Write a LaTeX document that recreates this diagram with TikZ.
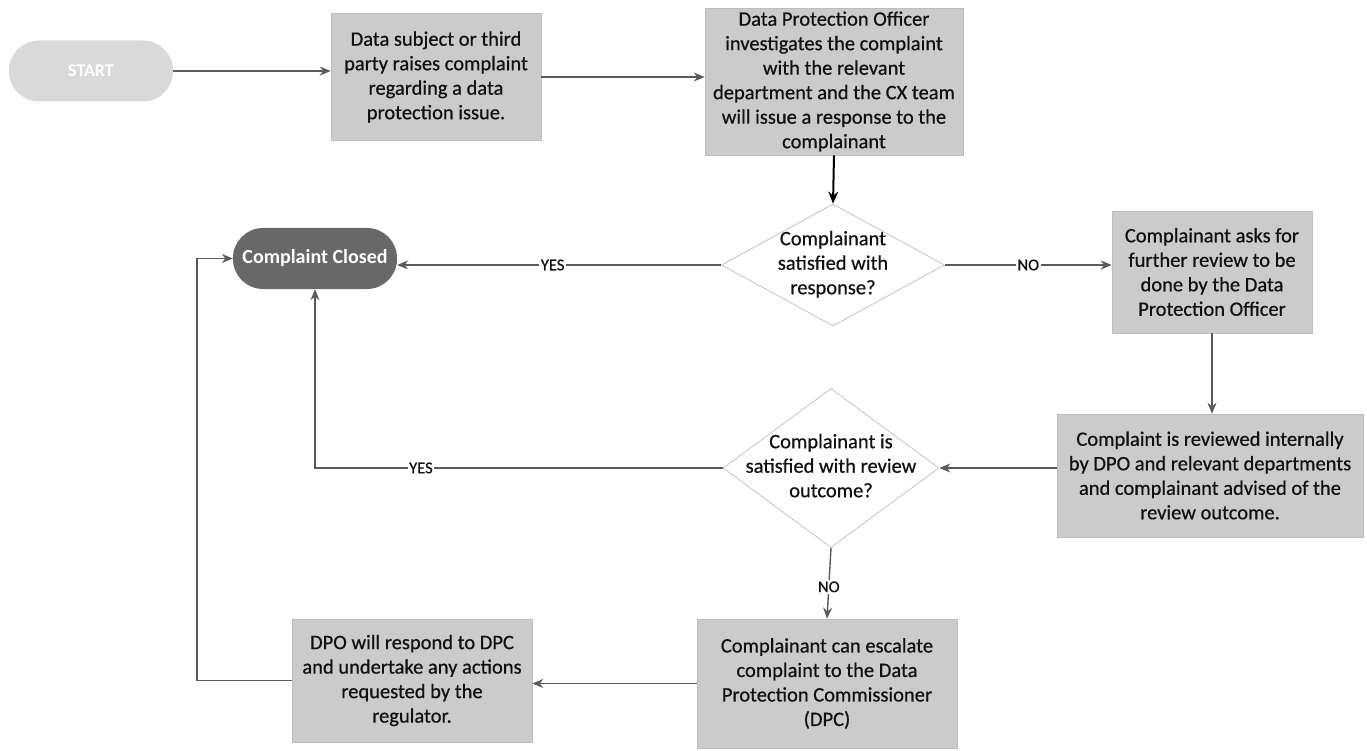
\documentclass[tikz,border=0pt]{standalone}
\usepackage{fontspec}
\setmainfont{Carlito}
\newfontfamily\scanfont{Carlito}[FakeBold=0.6]
\usetikzlibrary{arrows.meta,shapes.geometric}
\definecolor{boxgray}{HTML}{CBCBCB}
\definecolor{boxedge}{HTML}{BDBDBD}
\definecolor{startgray}{HTML}{D9D9D9}
\definecolor{closedgray}{HTML}{686868}
\definecolor{diamedge}{HTML}{C4C4C4}
\definecolor{linegray}{HTML}{5A5A5A}
\definecolor{textdark}{HTML}{111111}
\newcommand{\dtext}[1]{\raisebox{-5pt}[0pt][0pt]{\makebox[0pt]{\begin{tabular}{@{}c@{}}#1\end{tabular}}}}
\begin{document}
\begin{tikzpicture}[x=1pt,y=-1pt,
  procbox/.style={rectangle, fill=boxgray, draw=boxedge, line width=0.6pt, inner sep=0pt,
    align=center, text=textdark, font=\scanfont\fontsize{20.5}{24.5}\selectfont},
  pill/.style={rectangle, rounded corners=30pt, minimum width=164pt, minimum height=61pt,
    inner sep=0pt, text=white, font=\bfseries\fontsize{20}{24}\selectfont},
  decision/.style={diamond, draw=diamedge, fill=white, line width=0.8pt, inner sep=0pt,
    text=textdark, font=\scanfont\fontsize{20.5}{24.5}\selectfont},
  arr/.style={draw=linegray, line width=1.4pt, -{Stealth[length=11pt,width=9pt]}},
  arrdark/.style={draw=black, line width=2pt, -{Stealth[length=12pt,width=10pt]}},
  lbl/.style={fill=white, inner sep=1.5pt, text=textdark, font=\scanfont\fontsize{16.5}{18}\selectfont}
]
\useasboundingbox (0,0) rectangle (1367,751);

\node[pill, fill=startgray, font=\bfseries\fontsize{18}{22}\selectfont] (start) at (91,71) {START};
\node[procbox, minimum width=210pt, minimum height=127pt] (box1) at (436,77)
  {Data subject or third\\party raises complaint\\regarding a data\\protection issue.};
\node[procbox, minimum width=258pt, minimum height=147pt] (box2) at (834,81.5)
  {Data Protection Officer\\investigates the complaint\\with the relevant\\department and the CX team\\will issue a response to the\\complainant};
\node[decision, minimum width=223pt, minimum height=122pt] (d1) at (833,265)
  {\dtext{Complainant\\satisfied with\\response?}};
\node[pill, fill=closedgray] (closed) at (315,258.5) {Complaint Closed};
\node[procbox, minimum width=200pt, minimum height=122pt] (box3) at (1212,272)
  {Complainant asks for\\further review to be\\done by the Data\\Protection Officer};
\node[procbox, minimum width=306pt, minimum height=123pt] (box4) at (1210,475.5)
  {Complaint is reviewed internally\\by DPO and relevant departments\\and complainant advised of the\\review outcome.};
\node[decision, minimum width=216pt, minimum height=159pt] (d2) at (831,468)
  {\dtext{Complainant is\\satisfied with review\\outcome?}};
\node[procbox, minimum width=260pt, minimum height=129pt] (box5) at (827,683.5)
  {Complainant can escalate\\complaint to the Data\\Protection Commissioner\\(DPC)};
\node[procbox, minimum width=240pt, minimum height=123pt] (box6) at (412,680.5)
  {DPO will respond to DPC\\and undertake any actions\\requested by the\\regulator.};
\coordinate (lc) at (197,680);

\draw[arr] (start.east) -- (box1.west |- start.east);
\draw[arr] (box1.east) -- (box2.west |- box1.east);
\draw[arrdark] (box2.south) -- (d1.north);
\draw[arr] (d1.west) -- node[lbl, pos=0.52] {YES} (closed.east |- d1.west);
\draw[arr] (d1.east) -- node[lbl, pos=0.5] {NO} (box3.west |- d1.east);
\draw[arr] (box3.south) -- (box3.south |- box4.north);
\draw[arr] (box4.west |- d2.east) -- (d2.east);
\draw[arr] (d2.west) -- node[lbl, pos=0.74] {YES} (closed.south |- d2.west) -- (closed.south);
\draw[arr] (d2.south) -- node[lbl, pos=0.55] {NO} (box5.north);
\draw[arr] (box5.west) -- (box6.east |- box5.west);
\draw[arr] (box6.west) -- (box6.west -| lc) |- (closed.west);
\end{tikzpicture}
\end{document}
